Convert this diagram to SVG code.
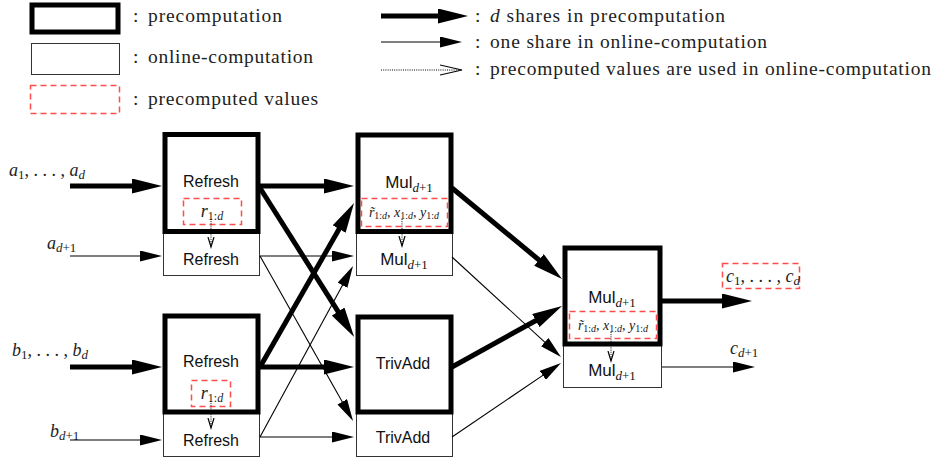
<svg xmlns="http://www.w3.org/2000/svg" width="936" height="461" viewBox="0 0 936 461">
<style>
.pre{fill:#fff;stroke:#000;stroke-width:5}
.onl{fill:#fff;stroke:#333;stroke-width:1}
.pv{fill:none;stroke:#ff4d4d;stroke-width:1.5;stroke-dasharray:6,4}
.tk{stroke:#000;stroke-width:5;fill:none}
.tn{stroke:#000;stroke-width:1.1;fill:none}
.dt{stroke:#000;stroke-width:1;stroke-dasharray:1,1.2;fill:none}
.lg{font-family:"Liberation Serif",serif;font-size:19.5px;fill:#222}
.sf{font-family:"Liberation Sans",Arial,sans-serif;font-size:16px;fill:#111;text-anchor:middle}
.mu{font-family:"Liberation Sans",Arial,sans-serif;font-size:17px;fill:#111;text-anchor:middle}
.m{font-family:"Liberation Serif",serif;font-size:18px;fill:#222}
.ms{font-family:"Liberation Serif",serif;font-size:14px;fill:#222}
.i{font-style:italic}
</style>
<defs>
<marker id="ht" viewBox="0 0 30 15" markerWidth="30" markerHeight="15" refX="8" refY="7.5" markerUnits="userSpaceOnUse" orient="auto"><path d="M0,0L30,7.5L0,15z" fill="#000"/></marker>
<marker id="hn" viewBox="0 0 22 11" markerWidth="22" markerHeight="11" refX="4" refY="5.5" markerUnits="userSpaceOnUse" orient="auto"><path d="M0,0L22,5.5L0,11z" fill="#000"/></marker>
<marker id="hoL" viewBox="0 0 24 12" markerWidth="24" markerHeight="12" refX="22" refY="6" markerUnits="userSpaceOnUse" orient="auto"><path d="M0,1L22,6L0,11" fill="none" stroke="#000" stroke-width="1.2"/></marker>
<marker id="hoS" viewBox="0 0 12 8" markerWidth="12" markerHeight="8" refX="10" refY="4" markerUnits="userSpaceOnUse" orient="auto"><path d="M0,1L10,4L0,7" fill="none" stroke="#000" stroke-width="1.2"/></marker>
</defs>

<g id="legend">
<rect class="pre" x="32" y="5" width="86" height="27"/>
<rect class="onl" x="31.5" y="43.5" width="88" height="31"/>
<rect class="pv" x="30.5" y="85.5" width="89" height="28"/>
<text class="lg" x="133" y="22">:</text>
<text class="lg" x="148" y="22" textLength="134" lengthAdjust="spacing">precomputation</text>
<text class="lg" x="133" y="63">:</text>
<text class="lg" x="148" y="63" textLength="165" lengthAdjust="spacing">online-computation</text>
<text class="lg" x="133" y="105">:</text>
<text class="lg" x="148" y="105" textLength="170" lengthAdjust="spacing">precomputed values</text>
<line class="tk" x1="381" y1="16" x2="446" y2="16" marker-end="url(#ht)"/>
<line class="tn" x1="381" y1="42" x2="444" y2="42" marker-end="url(#hn)"/>
<line class="dt" x1="381" y1="70" x2="462" y2="70" marker-end="url(#hoL)"/>
<text class="lg" x="475" y="22">:</text>
<text class="lg" x="490" y="22" textLength="235" lengthAdjust="spacing"><tspan class="i">d</tspan> shares in precomputation</text>
<text class="lg" x="475" y="48">:</text>
<text class="lg" x="490" y="48" textLength="277" lengthAdjust="spacing">one share in online-computation</text>
<text class="lg" x="475" y="75">:</text>
<text class="lg" x="490" y="75" textLength="441" lengthAdjust="spacing">precomputed values are used in online-computation</text>
</g>

<g id="inputs">
<text class="m" x="9" y="176"><tspan class="i">a</tspan><tspan font-size="13" dy="3">1</tspan><tspan dy="-3">, . . . , </tspan><tspan class="i">a</tspan><tspan class="i" font-size="13" dy="3">d</tspan></text>
<text class="m" x="47" y="249"><tspan class="i">a</tspan><tspan class="i" font-size="13" dy="3">d</tspan><tspan font-size="13">+1</tspan></text>
<text class="m" x="12" y="356"><tspan class="i">b</tspan><tspan font-size="13" dy="3">1</tspan><tspan dy="-3">, . . . , </tspan><tspan class="i">b</tspan><tspan class="i" font-size="13" dy="3">d</tspan></text>
<text class="m" x="50" y="437"><tspan class="i">b</tspan><tspan class="i" font-size="13" dy="3">d</tspan><tspan font-size="13">+1</tspan></text>
</g>

<g id="refresh-a">
<rect class="onl" x="163.5" y="233.5" width="96" height="42"/>
<rect class="pre" x="165" y="134.5" width="93" height="97"/>
<text class="sf" x="211" y="187">Refresh</text>
<rect class="pv" x="183.5" y="198.5" width="58" height="26"/>
<text class="m" x="212" y="217" text-anchor="middle"><tspan class="i">r</tspan><tspan font-size="12" dy="3">1:</tspan><tspan class="i" font-size="12">d</tspan></text>
<text class="sf" x="211" y="265">Refresh</text>
</g>

<g id="refresh-b">
<rect class="onl" x="163.5" y="413.5" width="96" height="43"/>
<rect class="pre" x="165" y="316" width="93" height="96"/>
<text class="sf" x="211" y="367">Refresh</text>
<rect class="pv" x="191.5" y="380.5" width="39" height="26"/>
<text class="m" x="212" y="399" text-anchor="middle"><tspan class="i">r</tspan><tspan font-size="12" dy="3">1:</tspan><tspan class="i" font-size="12">d</tspan></text>
<text class="sf" x="211" y="446">Refresh</text>
</g>

<g id="mul-top">
<rect class="onl" x="356.5" y="233.5" width="96" height="42"/>
<rect class="pre" x="358" y="135" width="93" height="96.5"/>
<text class="mu" x="409" y="188">Mul<tspan class="i" font-family="Liberation Serif" font-size="13" dy="4">d</tspan><tspan font-family="Liberation Serif" font-size="13">+1</tspan></text>
<rect class="pv" x="361.5" y="198.5" width="86" height="28"/>
<text class="ms" x="404" y="217" text-anchor="middle"><tspan class="i">r̃</tspan><tspan font-size="10" dy="2">1:</tspan><tspan class="i" font-size="10">d</tspan><tspan dy="-2">, </tspan><tspan class="i">x</tspan><tspan font-size="10" dy="2">1:</tspan><tspan class="i" font-size="10">d</tspan><tspan dy="-2">, </tspan><tspan class="i">y</tspan><tspan font-size="10" dy="2">1:</tspan><tspan class="i" font-size="10">d</tspan></text>
<text class="mu" x="404" y="265">Mul<tspan class="i" font-family="Liberation Serif" font-size="13" dy="4">d</tspan><tspan font-family="Liberation Serif" font-size="13">+1</tspan></text>
</g>

<g id="trivadd">
<rect class="onl" x="356.5" y="413.5" width="96" height="43"/>
<rect class="pre" x="358" y="317" width="93" height="95"/>
<text class="sf" x="403" y="369">TrivAdd</text>
<text class="sf" x="403" y="443">TrivAdd</text>
</g>

<g id="mul-right">
<rect class="onl" x="563.5" y="345.5" width="98" height="42"/>
<rect class="pre" x="565" y="248" width="95" height="96"/>
<text class="mu" x="612" y="303">Mul<tspan class="i" font-family="Liberation Serif" font-size="13" dy="4">d</tspan><tspan font-family="Liberation Serif" font-size="13">+1</tspan></text>
<rect class="pv" x="569.5" y="311.5" width="87" height="27"/>
<text class="ms" x="613" y="330" text-anchor="middle"><tspan class="i">r̃</tspan><tspan font-size="10" dy="2">1:</tspan><tspan class="i" font-size="10">d</tspan><tspan dy="-2">, </tspan><tspan class="i">x</tspan><tspan font-size="10" dy="2">1:</tspan><tspan class="i" font-size="10">d</tspan><tspan dy="-2">, </tspan><tspan class="i">y</tspan><tspan font-size="10" dy="2">1:</tspan><tspan class="i" font-size="10">d</tspan></text>
<text class="mu" x="612" y="376">Mul<tspan class="i" font-family="Liberation Serif" font-size="13" dy="4">d</tspan><tspan font-family="Liberation Serif" font-size="13">+1</tspan></text>
</g>

<g id="outputs">
<rect class="pv" x="722.5" y="263.5" width="77" height="25"/>
<text class="m" x="726" y="282"><tspan class="i">c</tspan><tspan font-size="13" dy="3">1</tspan><tspan dy="-3">, . . . , </tspan><tspan class="i">c</tspan><tspan class="i" font-size="13" dy="3">d</tspan></text>
<text class="m" x="730" y="354"><tspan class="i">c</tspan><tspan class="i" font-size="13" dy="3">d</tspan><tspan font-size="13">+1</tspan></text>
</g>

<g id="connectors">
<line class="tk" x1="70" y1="186" x2="140" y2="186" marker-end="url(#ht)"/>
<line class="tn" x1="70" y1="256" x2="144" y2="256" marker-end="url(#hn)"/>
<line class="tk" x1="70" y1="367" x2="140" y2="367" marker-end="url(#ht)"/>
<line class="tn" x1="70" y1="440" x2="144" y2="440" marker-end="url(#hn)"/>

<line class="tk" x1="260" y1="186" x2="332" y2="186" marker-end="url(#ht)"/>
<line class="tk" x1="260" y1="188" x2="342.4" y2="318.3" marker-end="url(#ht)"/>
<line class="tk" x1="260" y1="367" x2="343.1" y2="222.1" marker-end="url(#ht)"/>
<line class="tk" x1="260" y1="367" x2="332" y2="367" marker-end="url(#ht)"/>

<line class="tn" x1="260" y1="256" x2="336" y2="256" marker-end="url(#hn)"/>
<line class="tn" x1="260" y1="256" x2="344.2" y2="405.3" marker-end="url(#hn)"/>
<line class="tn" x1="260" y1="437" x2="344.4" y2="281.8" marker-end="url(#hn)"/>
<line class="tn" x1="260" y1="437" x2="336" y2="437" marker-end="url(#hn)"/>

<line class="tk" x1="452" y1="188" x2="545.1" y2="265" marker-end="url(#ht)"/>
<line class="tk" x1="452" y1="367" x2="542.8" y2="316.7" marker-end="url(#ht)"/>
<line class="tn" x1="452" y1="257" x2="547.7" y2="344.8" marker-end="url(#hn)"/>
<line class="tn" x1="452" y1="437" x2="546.1" y2="373.1" marker-end="url(#hn)"/>

<line class="tk" x1="662" y1="301" x2="730" y2="301" marker-end="url(#ht)"/>
<line class="tn" x1="662" y1="367" x2="737" y2="367" marker-end="url(#hn)"/>

<line class="dt" x1="211" y1="219" x2="211" y2="247" marker-end="url(#hoS)"/>
<line class="dt" x1="211" y1="401" x2="211" y2="428" marker-end="url(#hoS)"/>
<line class="dt" x1="402" y1="219" x2="402" y2="246" marker-end="url(#hoS)"/>
<line class="dt" x1="611" y1="332" x2="611" y2="361" marker-end="url(#hoS)"/>
</g>
</svg>
